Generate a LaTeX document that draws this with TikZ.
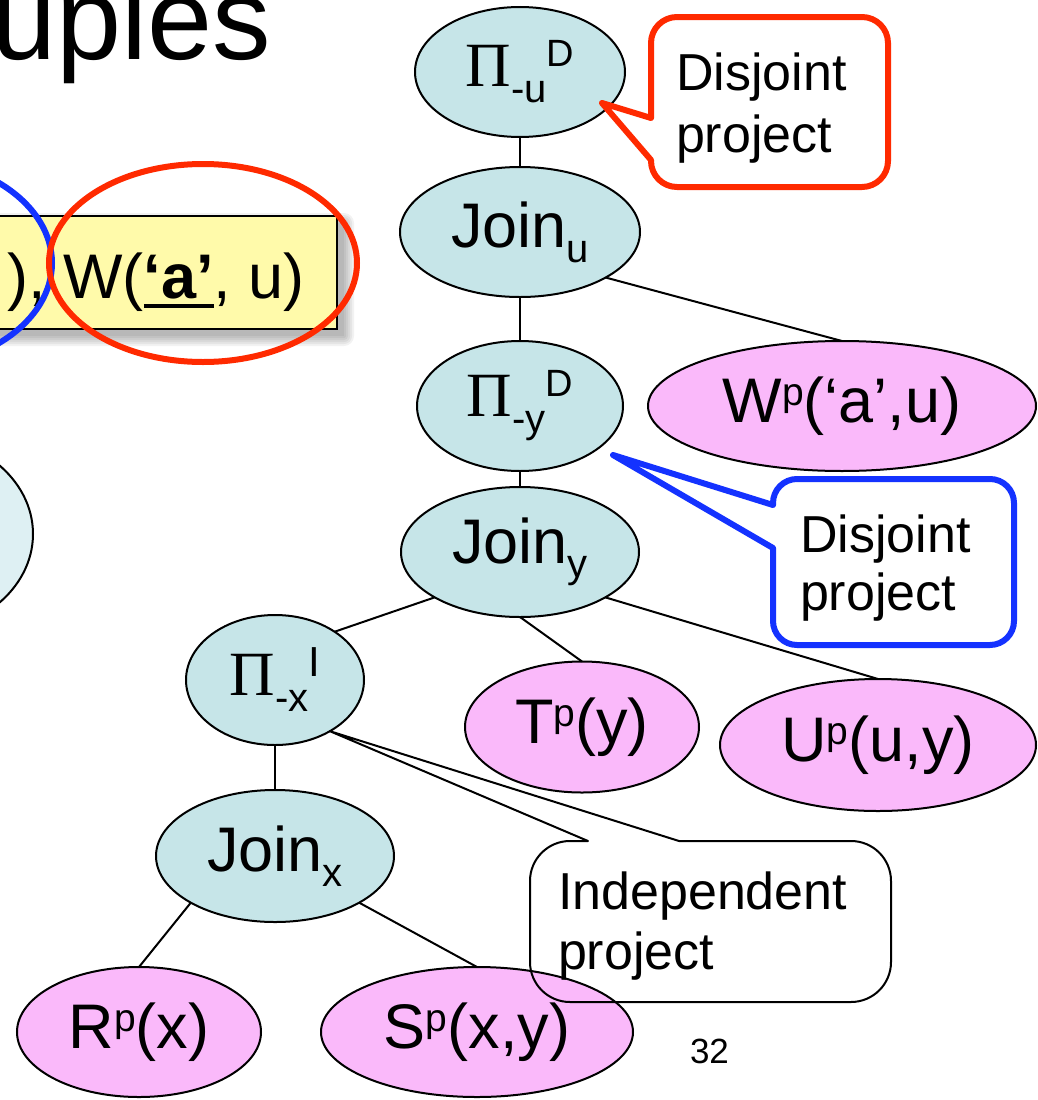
\documentclass[tikz,border=0pt]{standalone}
\usepackage{fontspec}
\setmainfont{Liberation Sans}
\newfontfamily\pifont{Liberation Serif}
\usetikzlibrary{shapes.geometric}
\definecolor{opfill}{RGB}{198,229,232}
\definecolor{relfill}{RGB}{250,185,250}
\definecolor{yelfill}{RGB}{255,250,170}
\definecolor{leftfill}{RGB}{222,240,243}
\definecolor{redc}{RGB}{255,42,0}
\definecolor{bluec}{RGB}{20,50,255}
\newcommand{\bigfont}{\fontsize{63}{70}\selectfont}
\newcommand{\callfont}{\fontsize{52}{60}\selectfont}
\newcommand{\lsub}[2][-15pt]{\raisebox{#1}{\fontsize{40}{40}\selectfont #2}}
\newcommand{\lsupD}[1]{\raisebox{20pt}{\fontsize{38}{38}\selectfont #1}}
\newcommand{\lsupI}[1]{\raisebox{19pt}{\fontsize{42}{42}\selectfont #1}}
\newcommand{\psup}{\raisebox{17pt}{\fontsize{39}{39}\selectfont p}}
\newcommand{\ulb}[1]{\vtop{\hbox{#1}\kern5pt\hrule height 4pt}}
\begin{document}
\begin{tikzpicture}[x=1pt,y=-1pt,
  every node/.style={inner sep=0pt, outer sep=0pt},
  nd/.style={ellipse, draw=black, line width=2pt, font=\bigfont},
  op/.style={nd, fill=opfill},
  rel/.style={nd, fill=relfill},
  edge/.style={draw=black, line width=2pt},
  calltext/.style={anchor=base west, font=\callfont}]
\fill[white] (0,0) rectangle (1038,1100);
\useasboundingbox (0,0) rectangle (1038,1100);

% title fragment
\node[anchor=base west, font=\fontsize{117}{125}\selectfont] (title) at (-9,59) {uples};

% left partial ellipse
\draw[line width=2pt, fill=leftfill] (-90,534) ellipse [x radius=123pt, y radius=100pt];

% yellow formula box with shadow
\foreach \m in {0,2,4,6,8,10}
  \fill[black, opacity=0.05, rounded corners=\m pt] (-60+6-\m,216+7-\m) rectangle (337+7+\m,329+7+\m);
\fill[yelfill] (-60,216) rectangle (337,329);
\draw[line width=1.5pt] (-60,216) rectangle (337,329);
\node[anchor=base east, font=\bigfont] (formula) at (305,298) {), W(\ulb{\bfseries ‘a’}, u)};
\draw[bluec, line width=6pt] (-98,263) ellipse [x radius=150pt, y radius=105pt];
\draw[redc, line width=6pt] (203,263) ellipse [x radius=154pt, y radius=99pt];

% tree nodes
\node[op, minimum width=210pt, minimum height=130pt] (pu) at (520,72) {{\pifont Π}\lsub[-16pt]{-u}\lsupD{D}};
\node[op, minimum width=240pt, minimum height=130pt] (ju) at (520,232) {Join\lsub{u}};
\node[op, minimum width=206pt, minimum height=130pt] (py) at (520,406) {{\pifont Π}\lsub[-16pt]{-y}\lsupD{D}};
\node[rel, minimum width=388pt, minimum height=130pt] (wp) at (842,406) {W\psup(‘a’,u)};
\node[op, minimum width=238pt, minimum height=130pt] (jy) at (520,552) {Join\lsub[-14pt]{y}};
\node[op, minimum width=178pt, minimum height=130pt] (px) at (275,680) {{\pifont Π}\lsub[-16pt]{-x}\lsupI{I}};
\node[rel, minimum width=234pt, minimum height=131pt] (tp) at (582,727) {T\psup(y)};
\node[rel, minimum width=316pt, minimum height=132pt] (up) at (878,745) {U\psup(u,y)};
\node[op, minimum width=238pt, minimum height=132pt] (jx) at (275,856) {Join\lsub{x}};
\node[rel, minimum width=244pt, minimum height=130pt] (rp) at (139,1032) {R\psup(x)};
\node[rel, minimum width=312pt, minimum height=130pt] (sp) at (477,1032) {S\psup(x,y)};

% edges
\draw[edge] (pu.south) -- (ju.north);
\draw[edge] (ju.south) -- (py.north);
\draw[edge] (ju.-28) -- (wp.north);
\draw[edge] (py.south) -- (jy.north);
\draw[edge] (jy.-152) -- (px.39);
\draw[edge] (jy.south) -- (tp.north);
\draw[edge] (jy.-28) -- (up.north);
\draw[edge] (px.south) -- (jx.north);
\draw[edge] (jx.-151) -- (rp.north);
\draw[edge] (jx.-29) -- (sp.north);

% red callout
\coordinate (rtip) at (602,103);
\fill[white, rounded corners=28pt] (651,17) rectangle (888,187);
\fill[white] (rtip) -- (653,118) -- (653,160) -- cycle;
\draw[redc, line width=6pt, rounded corners=26pt] (651,118) -- (651,17) -- (888,17) -- (888,187) -- (651,187) -- (651,160);
\draw[redc, line width=6pt, line join=round, line cap=round] (651,118) -- (rtip) -- (651,160);
\node[calltext] (rc1) at (676,90) {Disjoint};
\node[calltext] (rc2) at (676,152) {project};

% blue callout
\coordinate (btip) at (613,455);
\fill[white, rounded corners=25pt] (773,479) rectangle (1014,645);
\fill[white] (btip) -- (775,505) -- (775,548) -- cycle;
\draw[bluec, line width=6pt, rounded corners=24pt] (773,505) -- (773,479) -- (1014,479) -- (1014,645) -- (773,645) -- (773,548);
\draw[bluec, line width=6pt, line join=round, line cap=round] (773,505) -- (btip) -- (773,548);
\node[calltext] (bc1) at (800,552) {Disjoint};
\node[calltext] (bc2) at (800,610) {project};

% independent callout
\draw[black, line width=2pt, rounded corners=40pt] (679,841) -- (891,841) -- (891,1002) -- (530,1002) -- (530,841) -- (588,841);
\draw[black, line width=2pt, line join=round, line cap=round] (588,841) -- (px.-43) -- (679,841);
\node[calltext] (ic1) at (558,909) {Independent};
\node[calltext] (ic2) at (558,969) {project};

\node[anchor=base west, font=\fontsize{35}{40}\selectfont] (pg) at (690,1063) {32};
\end{tikzpicture}
\end{document}
